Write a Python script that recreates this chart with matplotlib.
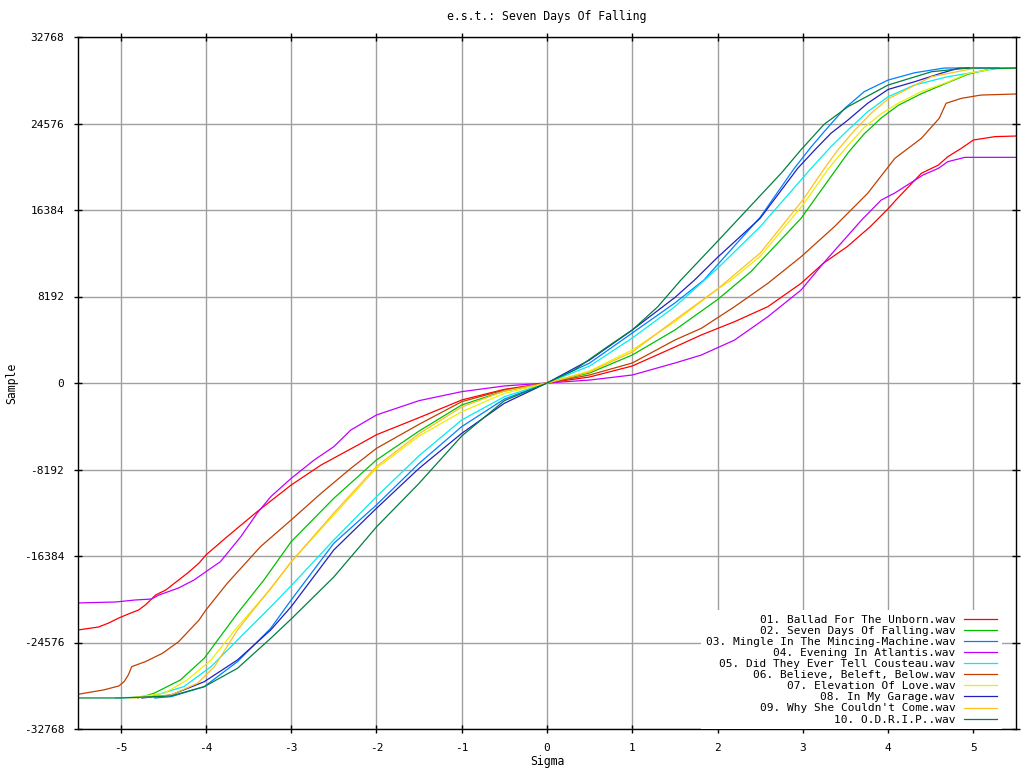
import matplotlib
matplotlib.use("Agg")
import matplotlib.pyplot as plt

title = "e.s.t.: Seven Days Of Falling"
labels = [
    "01. Ballad For The Unborn.wav",
    "02. Seven Days Of Falling.wav",
    "03. Mingle In The Mincing-Machine.wav",
    "04. Evening In Atlantis.wav",
    "05. Did They Ever Tell Cousteau.wav",
    "06. Believe, Beleft, Below.wav",
    "07. Elevation Of Love.wav",
    "08. In My Garage.wav",
    "09. Why She Couldn't Come.wav",
    "10. O.D.R.I.P..wav",
]
colors = ["#ff0000", "#00c000", "#0080ff", "#c000ff", "#00eeee",
          "#c04000", "#eeee00", "#2020c0", "#ffc020", "#008040"]

# 01 Ballad For The Unborn
s01 = [-5.5, -5.26, -5.14, -5.02, -4.91, -4.79, -4.71, -4.59, -4.47, -4.32, -4.2, -4.08, -4.0,
       -3.75, -3.4, -3.0, -2.65, -2.18, -2.0, -1.5, -1.0, -0.5, 0.0, 0.5, 1.0, 1.5, 1.81, 2.2, 2.59,
       2.98, 3.24, 3.52, 3.79, 4.0, 4.1, 4.39, 4.59, 4.70, 4.86, 5.0, 5.25, 5.5]
v01 = [-23390, -23110, -22730, -22250, -21880, -21500, -21020, -20080, -19600, -18660, -17900, -17050, -16290,
       -14550, -12190, -9660, -7770, -5710, -4900, -3280, -1610, -600, 0, 570, 1610, 3410, 4550, 5810, 7230,
       9440, 11330, 12910, 14800, 16500, 17400, 19860, 20640, 21430, 22230, 23010, 23330, 23390]

# 02 Seven Days Of Falling
s02 = [-4.8, -4.61, -4.30, -4.02, -3.63, -3.32, -3.0, -2.5, -2.0, -1.5, -1.0, -0.5, 0.0, 0.5, 1.0,
       1.5, 2.0, 2.39, 2.98, 3.37, 3.53, 3.72, 3.92, 4.12, 4.39, 4.70, 4.94, 5.2, 5.5]
v02 = [-29830, -29390, -28130, -26070, -21810, -18660, -15030, -10920, -7290, -4550, -2080, -760, 0, 950, 2650,
       5020, 7900, 10540, 15600, 20000, 21800, 23600, 25100, 26300, 27400, 28450, 29250, 29750, 29830]

# 03 Mingle In The Mincing-Machine
s03 = [-4.6, -4.41, -4.02, -3.63, -3.24, -3.0, -2.5, -2.0, -1.5, -1.0, -0.5, 0.0, 0.5, 1.0, 1.5,
       1.84, 2.0, 2.5, 2.90, 3.10, 3.25, 3.49, 3.72, 4.0, 4.31, 4.66, 5.3]
v03 = [-29830, -29710, -28760, -26390, -23230, -20550, -15180, -11550, -7610, -4130, -1520, 0, 1890, 4735, 7580,
       9750, 11200, 15700, 20330, 22380, 23800, 26000, 27590, 28690, 29380, 29830, 29830]

# 04 Evening In Atlantis
s04 = [-5.5, -5.06, -4.83, -4.64, -4.55, -4.32, -4.14, -4.0, -3.83, -3.59, -3.40, -3.24, -3.0, -2.73,
       -2.5, -2.3, -2.0, -1.5, -1.0, -0.5, 0.0, 0.5, 1.0, 1.5, 1.81, 2.2, 2.59, 2.98, 3.24, 3.43, 3.69,
       3.92, 4.08, 4.41, 4.59, 4.70, 4.90, 5.5]
v04 = [-20830, -20740, -20550, -20460, -20080, -19410, -18660, -17870, -16920, -14550, -12340, -10770, -9030,
       -7290, -6030, -4450, -3030, -1670, -820, -280, 0, 280, 758, 1890, 2650, 4070, 6280, 8810, 11330, 13070,
       15440, 17330, 18000, 19700, 20330, 20960, 21370, 21370]

# 05 Did They Ever Tell Cousteau
s05 = [-5.06, -4.65, -4.26, -3.94, -3.63, -3.24, -3.0, -2.5, -2.0, -1.5, -1.0, -0.5, 0.0, 0.5, 1.0,
       1.5, 2.0, 2.5, 3.08, 3.33, 3.53, 3.76, 4.0, 4.31, 4.70, 5.25]
v05 = [-29830, -29710, -28760, -26870, -24340, -21200, -19200, -14870, -10770, -6880, -3500, -1300, 0, 1610, 4260,
       7230, 10860, 14800, 20170, 22380, 23960, 25690, 27110, 28220, 29010, 29740]

# 06 Believe, Beleft, Below
s06 = [-5.5, -5.2, -5.02, -4.96, -4.91, -4.87, -4.71, -4.51, -4.32, -4.08, -4.0, -3.75, -3.36, -3.0, -2.65,
       -2.3, -2.0, -1.5, -1.0, -0.5, 0.0, 0.5, 1.0, 1.5, 1.81, 2.2, 2.59, 2.98, 3.37, 3.76, 4.08, 4.39,
       4.60, 4.68, 4.86, 5.09, 5.5]
v06 = [-29480, -29070, -28690, -28290, -27650, -26860, -26390, -25600, -24500, -22440, -21500, -18970, -15500,
       -12970, -10450, -8080, -6190, -3910, -1770, -660, 0, 760, 1894, 4070, 5180, 7230, 9440, 11960, 14800,
       17960, 21280, 23170, 25070, 26490, 26960, 27270, 27370]

# 07 Elevation Of Love
s07 = [-4.9, -4.49, -4.22, -3.94, -3.63, -3.24, -3.0, -2.5, -2.0, -1.5, -1.0, -0.5, 0.0, 0.5, 1.0,
       1.5, 2.0, 2.16, 2.5, 3.0, 3.31, 3.53, 3.72, 3.92, 4.12, 4.39, 4.70, 4.94, 5.2]
v07 = [-29830, -29390, -28130, -26230, -23100, -19500, -16920, -12500, -8080, -5020, -2720, -980, 0, 1140, 3125,
       5810, 8900, 9750, 12000, 16860, 20400, 22500, 24200, 25500, 26500, 27600, 28500, 29330, 29700]

# 08 In My Garage
s08 = [-4.75, -4.41, -4.02, -3.63, -3.24, -3.0, -2.5, -2.0, -1.5, -1.0, -0.5, 0.0, 0.5, 1.0, 1.5,
       1.73, 2.0, 2.5, 2.94, 3.14, 3.33, 3.53, 3.76, 4.0, 4.31, 4.62, 4.82, 4.95]
v08 = [-29830, -29550, -28290, -26230, -23390, -21180, -15810, -11870, -8080, -4770, -1920, 0, 2180, 5020, 8100,
       9750, 11900, 15600, 20330, 22070, 23650, 24910, 26490, 27800, 28530, 29330, 29800, 29830]

# 09 Why She Couldn't Come
s09 = [-4.85, -4.41, -4.10, -3.90, -3.63, -3.24, -3.0, -2.5, -2.0, -1.5, -1.0, -0.5, 0.0, 0.5, 1.0,
       1.5, 2.0, 2.5, 3.0, 3.24, 3.41, 3.61, 3.80, 4.0, 4.51, 5.01]
v09 = [-29830, -29550, -28440, -26870, -23390, -19440, -16950, -12310, -7900, -4800, -2270, -760, 0, 1050, 2935,
       5970, 8900, 12310, 17330, 20170, 22070, 23960, 25540, 26900, 29010, 29800]

# 10 O.D.R.I.P.
s10 = [-5.5, -5.0, -4.41, -4.02, -3.63, -3.24, -3.0, -2.5, -2.0, -1.5, -1.0, -0.5, 0.0, 0.32, 0.71,
       1.0, 1.30, 1.57, 2.0, 2.5, 2.75, 2.98, 3.25, 3.53, 4.0, 4.51, 4.94, 5.5]
v10 = [-29830, -29830, -29640, -28760, -27020, -24180, -22350, -18370, -13630, -9500, -5020, -1670, 0, 1230, 3440,
       5020, 7230, 9750, 13420, 17740, 19900, 22100, 24500, 26170, 28220, 29480, 29830, 29830]

sigmas = [s01, s02, s03, s04, s05, s06, s07, s08, s09, s10]
values = [v01, v02, v03, v04, v05, v06, v07, v08, v09, v10]

xticks = [-5, -4, -3, -2, -1, 0, 1, 2, 3, 4, 5]
yticks = [-32768, -24576, -16384, -8192, 0, 8192, 16384, 24576, 32768]

plt.rcParams["font.family"] = ["DejaVu Sans Mono"]

fig = plt.figure(figsize=(10.24, 7.68), dpi=100)
ax = fig.add_axes([78 / 1024, 1 - 729 / 768, (1016 - 78) / 1024, (729 - 37) / 768])

for s, v, c, lab in zip(sigmas, values, colors, labels):
    ax.plot(s, v, color=c, lw=0.9, label=lab)

ax.set_xlim(-5.5, 5.5)
ax.set_ylim(-32768, 32768)
ax.set_xticks(xticks)
ax.set_yticks(yticks)
ax.set_xticklabels([str(t) for t in xticks])
ax.set_yticklabels([str(t) for t in yticks])
ax.grid(True, color="#a0a0a0", lw=1.0)
ax.set_axisbelow(True)
ax.tick_params(direction="inout", length=6, width=1, top=True, right=True, pad=7, labelsize=8)
for sp in ax.spines.values():
    sp.set_linewidth(1.0)
    sp.set_color("black")

ax.set_title(title, fontsize=8.3, pad=12)
ax.set_xlabel("Sigma", fontsize=8.3, labelpad=1.5)
ax.set_ylabel("Sample", fontsize=8.3, labelpad=4)

leg = ax.legend(loc="lower right", markerfirst=False, frameon=True, fancybox=False,
                edgecolor="none", facecolor="white", framealpha=1.0, fontsize=8.0,
                labelspacing=0.1, handlelength=3.05, handletextpad=0.75,
                borderaxespad=0.0, borderpad=0.4, bbox_to_anchor=(0.985, 0.0))

fig.savefig("out.png", dpi=100)
